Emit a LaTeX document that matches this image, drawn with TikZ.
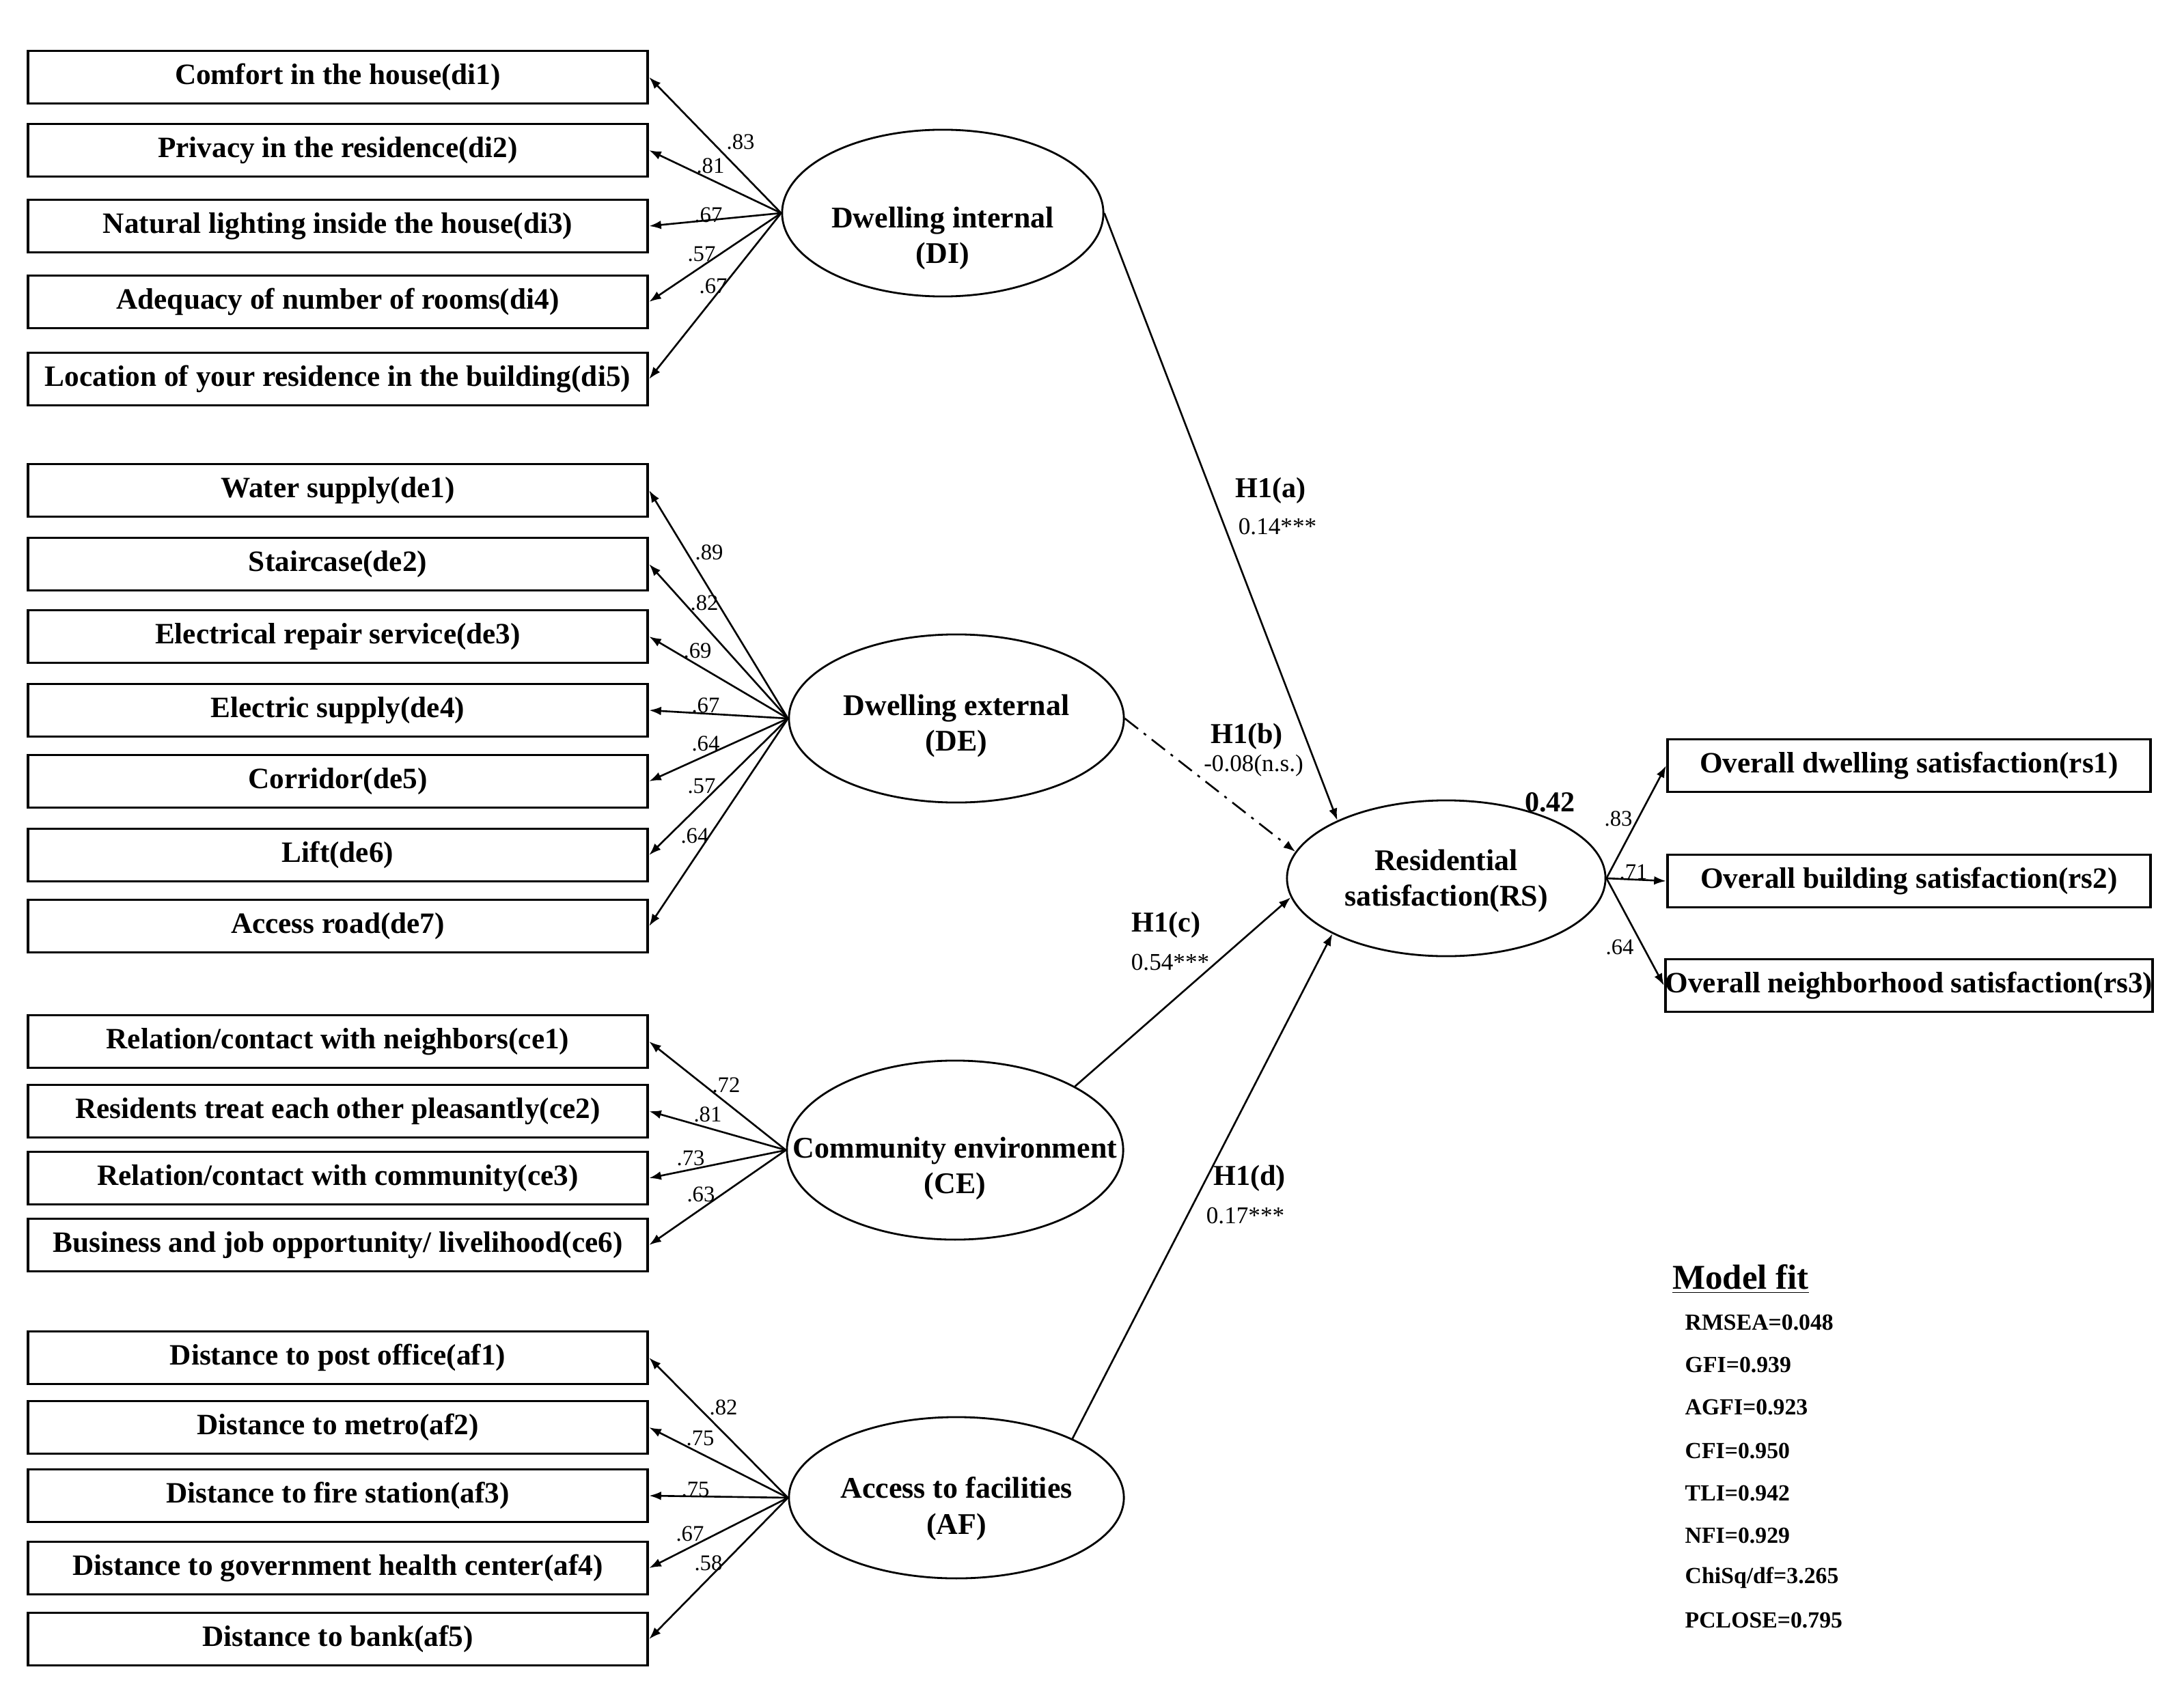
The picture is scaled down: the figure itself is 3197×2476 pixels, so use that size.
\documentclass[tikz,border=0pt]{standalone}
\usepackage{fontspec}
\setmainfont{Liberation Serif}
\usetikzlibrary{shapes.geometric,arrows.meta}
\begin{document}
\begin{tikzpicture}[x=0.01cm,y=-0.01cm,
  obs/.style={draw,line width=1.1pt,rectangle,minimum width=9.07cm,minimum height=0.77cm,inner sep=0pt,text height=0.85em,text depth=0.25em,font=\fontsize{12.3}{14}\selectfont\bfseries},
  obsr/.style={obs,minimum width=7.07cm},
  lat/.style={draw,ellipse,line width=0.8pt,inner sep=0pt},
  lattext/.style={align=center,inner sep=0pt,font=\fontsize{12.5}{15}\selectfont\bfseries},
  ind/.style={-{Latex[length=5pt,width=3.6pt]},line width=0.75pt},
  dashdotline/.style={dash pattern=on 7pt off 3pt on 1.2pt off 3pt},
  ld/.style={inner sep=0pt,font=\fontsize{9.3}{10}\selectfont},
  hyp/.style={inner sep=0pt,font=\fontsize{12}{14}\selectfont\bfseries},
  est/.style={inner sep=0pt,font=\fontsize{10}{12}\selectfont},
  fit/.style={anchor=west,inner sep=0pt,font=\fontsize{9.6}{11}\selectfont\bfseries}
]
\useasboundingbox (0,0) rectangle (3197,2476);

% ---------- observed indicators: DI ----------
\node[obs] (di1) at (494.5,113) {Comfort in the house(di1)};
\node[obs] (di2) at (494.5,220) {Privacy in the residence(di2)};
\node[obs] (di3) at (494.5,331) {Natural lighting inside the house(di3)};
\node[obs] (di4) at (494.5,442) {Adequacy of number of rooms(di4)};
\node[obs] (di5) at (494.5,555) {Location of your residence in the building(di5)};
% ---------- DE ----------
\node[obs] (de1) at (494.5,718) {Water supply(de1)};
\node[obs] (de2) at (494.5,826) {Staircase(de2)};
\node[obs] (de3) at (494.5,932) {Electrical repair service(de3)};
\node[obs] (de4) at (494.5,1040) {Electric supply(de4)};
\node[obs] (de5) at (494.5,1144) {Corridor(de5)};
\node[obs] (de6) at (494.5,1252) {Lift(de6)};
\node[obs] (de7) at (494.5,1356) {Access road(de7)};
% ---------- CE ----------
\node[obs] (ce1) at (494.5,1525) {Relation/contact with neighbors(ce1)};
\node[obs] (ce2) at (494.5,1627) {Residents treat each other pleasantly(ce2)};
\node[obs] (ce3) at (494.5,1725) {Relation/contact with community(ce3)};
\node[obs] (ce4) at (494.5,1823) {Business and job opportunity/ livelihood(ce6)};
% ---------- AF ----------
\node[obs] (af1) at (494.5,1988) {Distance to post office(af1)};
\node[obs] (af2) at (494.5,2090) {Distance to metro(af2)};
\node[obs] (af3) at (494.5,2190) {Distance to fire station(af3)};
\node[obs] (af4) at (494.5,2296) {Distance to government health center(af4)};
\node[obs] (af5) at (494.5,2400) {Distance to bank(af5)};
% ---------- RS indicators ----------
\node[obsr] (rs1) at (2794.5,1121) {Overall dwelling satisfaction(rs1)};
\node[obsr] (rs2) at (2794.5,1290) {Overall building satisfaction(rs2)};
\node[obsr] (rs3) at (2794.5,1443) {Overall neighborhood satisfaction(rs3)};

% ---------- latent variables ----------
\node[lat,minimum width=4.7cm,minimum height=2.44cm] (DI) at (1380,312) {};
\node[lattext] (DIt) at (1380,349) {Dwelling internal\\(DI)};
\node[lat,minimum width=4.9cm,minimum height=2.46cm] (DE) at (1400,1052) {};
\node[lattext] (DEt) at (1400,1063) {Dwelling external\\(DE)};
\node[lat,minimum width=4.92cm,minimum height=2.62cm] (CE) at (1398,1684) {};
\node[lattext] (CEt) at (1398,1711) {Community environment\\(CE)};
\node[lat,minimum width=4.9cm,minimum height=2.36cm] (AF) at (1400,2193) {};
\node[lattext] (AFt) at (1400,2209) {Access to facilities\\(AF)};
\node[lat,minimum width=4.66cm,minimum height=2.28cm] (RS) at (2117,1286) {};
\node[lattext] (RSt) at (2117,1290) {Residential\\satisfaction(RS)};

% ---------- measurement arrows ----------
\foreach \i in {di1,di2,di3,di4,di5} \draw[ind] (DI.west) -- (\i.east);
\foreach \i in {de1,de2,de3,de4,de5,de6,de7} \draw[ind] (DE.west) -- (\i.east);
\foreach \i in {ce1,ce2,ce3,ce4} \draw[ind] (CE.west) -- (\i.east);
\foreach \i in {af1,af2,af3,af4,af5} \draw[ind] (AF.west) -- (\i.east);
\foreach \i in {rs1,rs2,rs3} \draw[ind] (RS.east) -- (\i.west);

% ---------- loadings ----------
\node[ld] (l1) at (1084,208) {.83};
\node[ld] (l2) at (1040,243) {.81};
\node[ld] (l3) at (1037,315) {.67};
\node[ld] (l4) at (1027,372) {.57};
\node[ld] (l5) at (1044,419) {.67};
\node[ld] (l6) at (1038,809) {.89};
\node[ld] (l7) at (1031,883) {.82};
\node[ld] (l8) at (1021,953) {.69};
\node[ld] (l9) at (1033,1033) {.67};
\node[ld] (l10) at (1033,1089) {.64};
\node[ld] (l11) at (1027,1151) {.57};
\node[ld] (l12) at (1017,1224) {.64};
\node[ld] (l13) at (1063,1589) {.72};
\node[ld] (l14) at (1036,1632) {.81};
\node[ld] (l15) at (1011,1696) {.73};
\node[ld] (l16) at (1026,1749) {.63};
\node[ld] (l17) at (1059,2061) {.82};
\node[ld] (l18) at (1025,2106) {.75};
\node[ld] (l19) at (1018,2181) {.75};
\node[ld] (l20) at (1010,2246) {.67};
\node[ld] (l21) at (1037,2289) {.58};
\node[ld] (l22) at (2369,1199) {.83};
\node[ld] (l23) at (2391,1277) {.71};
\node[ld] (l24) at (2371,1387) {.64};

% ---------- structural paths ----------
\draw[ind] (DI.east) -- (RS.152);
\draw[ind,dashdotline] (DE.east) -- (RS.170);
\draw[ind] (CE.28) -- (RS.187);
\draw[ind] (AF.27) -- (RS.206);

\node[hyp] (ha) at (1860,718) {H1(a)};
\node[est] (ea) at (1870,771) {0.14***};
\node[hyp] (hb) at (1825,1078) {H1(b)};
\node[est] (eb) at (1835,1121) {-0.08(n.s.)};
\node[hyp] (hc) at (1707,1354) {H1(c)};
\node[est] (ec) at (1713,1409) {0.54***};
\node[hyp] (hd) at (1829,1725) {H1(d)};
\node[est] (ed) at (1823,1780) {0.17***};
\node[hyp] (r2) at (2269,1175) {0.42};

% ---------- model fit ----------
\node[inner sep=0pt,font=\fontsize{14.5}{16}\selectfont\bfseries] (mf) at (2548,1873) {\underline{Model fit}};
\node[fit] (f1) at (2466,1936) {RMSEA=0.048};
\node[fit] (f2) at (2466,1998) {GFI=0.939};
\node[fit] (f3) at (2466,2060) {AGFI=0.923};
\node[fit] (f4) at (2466,2124) {CFI=0.950};
\node[fit] (f5) at (2466,2186) {TLI=0.942};
\node[fit] (f6) at (2466,2248) {NFI=0.929};
\node[fit] (f7) at (2466,2310) {ChiSq/df=3.265};
\node[fit] (f8) at (2466,2372) {PCLOSE=0.795};
\end{tikzpicture}
\end{document}
